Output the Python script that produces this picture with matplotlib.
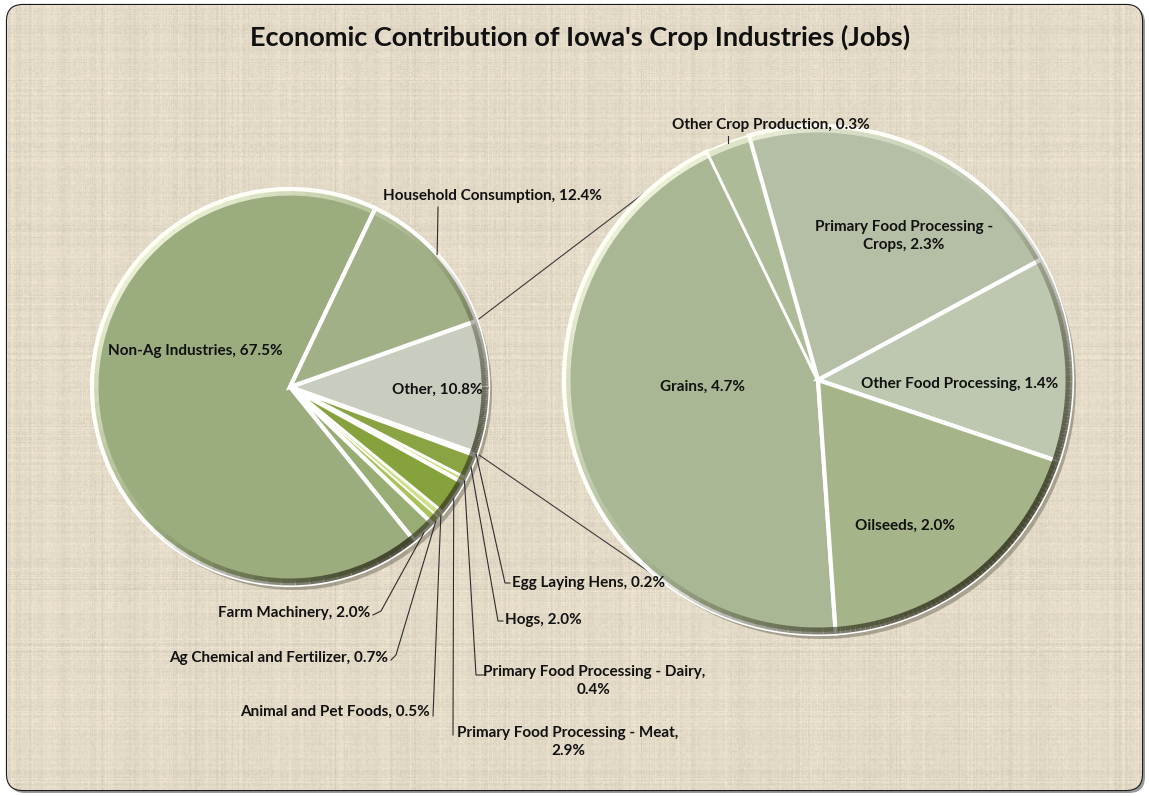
import numpy as np
import matplotlib.pyplot as plt
from matplotlib.patches import FancyBboxPatch
from matplotlib.collections import LineCollection

plt.rcParams['font.family'] = ['Lato', 'DejaVu Sans']

W, H = 1149, 796

# Primary pie (share of Iowa jobs)
main_labels = ["Other", "Egg Laying Hens", "Hogs", "Primary Food Processing - Dairy",
               "Primary Food Processing - Meat", "Animal and Pet Foods",
               "Ag Chemical and Fertilizer", "Farm Machinery", "Non-Ag Industries",
               "Household Consumption"]
main_values = [10.8, 0.2, 2.0, 0.4, 2.9, 0.5, 0.7, 2.0, 67.5, 12.4]
main_colors = ["#c9cdbf", "#dfe6bd", "#8aa444", "#c4d86e", "#86a23c", "#cfe08a",
               "#a9c25a", "#97ad74", "#9bad7e", "#a1b087"]

# Secondary pie (breakdown of "Other")
crop_labels = ["Grains", "Other Crop Production", "Primary Food Processing - Crops",
               "Other Food Processing", "Oilseeds"]
crop_values = [4.7, 0.3, 2.3, 1.4, 2.0]
crop_colors = ["#a9b794", "#adbb98", "#b5bfa6", "#bec8b1", "#a6b589"]


def py(y):
    # image rows run downward, axes y runs upward
    return H - y


fig = plt.figure(figsize=(W / 100, H / 100), dpi=100)
fig.patch.set_facecolor("white")
ax = fig.add_axes([0, 0, 1, 1])

# rounded frame with a linen-like fill
frame_shadow = FancyBboxPatch((9, 3), 1136, 786, boxstyle="round,pad=0,rounding_size=16",
                              facecolor="#555555", edgecolor="none", alpha=0.6, zorder=0)
ax.add_patch(frame_shadow)
frame = FancyBboxPatch((7, 6), 1135, 785, boxstyle="round,pad=0,rounding_size=16",
                       facecolor="#e2d8c4", edgecolor="#1b1b1b", linewidth=1.6, zorder=1)
ax.add_patch(frame)

rng = np.random.default_rng(11)
base = np.array([227, 218, 199]) / 255.0
rows = rng.normal(0, 1, (H, 1, 1))
cols = rng.normal(0, 1, (1, W, 1))
grain = rng.normal(0, 1, (H, W, 1))
tex = base[None, None, :] * (1 + 0.016 * rows + 0.016 * cols + 0.02 * grain)
tex = np.clip(tex, 0, 1)
img = ax.imshow(tex, extent=(7, 1142, 6, 791), origin="upper", zorder=1.5,
                interpolation="bilinear")
img.set_clip_path(frame)


def draw_pie(values, colors, center, radius, startangle, explode):
    shadows = ax.pie(values, colors=["#3c3a2c"] * len(values), startangle=startangle,
                     counterclock=False, radius=radius,
                     center=(center[0] + 4, center[1] - 5), explode=explode,
                     wedgeprops=dict(linewidth=0, alpha=0.35), frame=True)[0]
    for s in shadows:
        s.set_zorder(3)
    wedges = ax.pie(values, colors=colors, startangle=startangle, counterclock=False,
                    radius=radius, center=center, explode=explode,
                    wedgeprops=dict(edgecolor="white", linewidth=3), frame=True)[0]
    for w, v in zip(wedges, values):
        w.set_zorder(4)
        if v < 1:
            # thin slices keep their colour visible
            w.set_linewidth(1.2)
        # bevel rim: light toward upper left, dark toward lower right
        th = np.linspace(np.radians(w.theta1), np.radians(w.theta2), 60)
        cx, cy = w.center
        rr = w.r - 3
        xs = cx + rr * np.cos(th)
        ys = cy + rr * np.sin(th)
        pts = np.column_stack([xs, ys]).reshape(-1, 1, 2)
        segs = np.concatenate([pts[:-1], pts[1:]], axis=1)
        mid = (th[:-1] + th[1:]) / 2
        light = np.cos(mid - np.radians(135))
        seg_cols = []
        for l in light:
            if l > 0:
                seg_cols.append((1, 1, 0.92, 0.8 * l))
            else:
                seg_cols.append((0.2, 0.2, 0.12, -0.85 * l))
        ax.add_collection(LineCollection(segs, colors=seg_cols, linewidths=5, zorder=5))
    return wedges


main_center = (290, py(387))
main_r = 198
crop_center = (818, py(380))
crop_r = 254

main_start = main_values[0] / sum(main_values) * 180
main_wedges = draw_pie(main_values, main_colors, main_center, main_r, main_start,
                       [0.012] * len(main_values))
crop_wedges = draw_pie(crop_values, crop_colors, crop_center, crop_r, -86,
                       [0.0, 0.02, 0.02, 0.015, 0.015])


def arc_point(w, ang=None, frac=1.0):
    if ang is None:
        ang = (w.theta1 + w.theta2) / 2
    a = np.radians(ang)
    return (w.center[0] + frac * w.r * np.cos(a), w.center[1] + frac * w.r * np.sin(a))


# connector lines from "Other" to the secondary pie
other = main_wedges[0]
for ang_main, ang_crop in [(other.theta2, 127), (other.theta1, 233)]:
    p0 = arc_point(other, ang_main)
    p1 = (crop_center[0] + crop_r * np.cos(np.radians(ang_crop)),
          crop_center[1] + crop_r * np.sin(np.radians(ang_crop)))
    ax.plot([p0[0], p1[0]], [p0[1], p1[1]], color="#3b3b3b", lw=0.8, zorder=2)

label_kw = dict(fontsize=11, fontweight="bold", color="#111111", zorder=8)


def lab(name, val):
    return f"{name}, {val:.1f}%"


# labels inside the slices
inside_main = {"Non-Ag Industries": (195, 351), "Other": (437, 390)}
for name, (x, y) in inside_main.items():
    i = main_labels.index(name)
    ax.text(x, py(y), lab(name, main_values[i]), ha="center", va="center", **label_kw)

inside_crop = {"Grains": (702, 387), "Other Food Processing": (960, 384),
               "Oilseeds": (905, 526)}
for name, (x, y) in inside_crop.items():
    i = crop_labels.index(name)
    ax.text(x, py(y), lab(name, crop_values[i]), ha="center", va="center", **label_kw)
i = crop_labels.index("Primary Food Processing - Crops")
ax.text(904, py(236), f"Primary Food Processing -\nCrops, {crop_values[i]:.1f}%",
        ha="center", va="center", linespacing=1.35, **label_kw)

# labels with leader lines: (text x, text y, ha, leader path after the slice edge)
outside = {
    "Household Consumption": (492, 196, "center", [(438, 207)]),
    "Egg Laying Hens": (512, 583, "left", [(505, 583), (510, 583)]),
    "Hogs": (505, 620, "left", [(498, 621), (503, 621)]),
    "Primary Food Processing - Dairy": (594, 681, "center", [(476, 675), (484, 675)]),
    "Primary Food Processing - Meat": (568, 742, "center", [(453, 735)]),
    "Animal and Pet Foods": (430, 712, "right", [(433, 716)]),
    "Ag Chemical and Fertilizer": (388, 658, "right", [(396, 655), (391, 660)]),
    "Farm Machinery": (370, 613, "right", [(381, 611), (373, 615)]),
}
for name, (x, y, ha, path) in outside.items():
    i = main_labels.index(name)
    w = main_wedges[i]
    p0 = arc_point(w)
    xs = [p0[0]] + [p[0] for p in path]
    ys = [p0[1]] + [py(p[1]) for p in path]
    ax.plot(xs, ys, color="#2e2e2e", lw=0.8, zorder=7)
    text = lab(name, main_values[i])
    if name.startswith("Primary Food Processing"):
        text = f"{name},\n{main_values[i]:.1f}%"
    ax.text(x, py(y), text, ha=ha, va="center", linespacing=1.3, **label_kw)

# Other Crop Production label sits above its thin slice
i = crop_labels.index("Other Crop Production")
p0 = arc_point(crop_wedges[i])
ax.plot([p0[0], p0[0]], [p0[1], py(136)], color="#2e2e2e", lw=0.8, zorder=7)
ax.text(771, py(125), lab("Other Crop Production", crop_values[i]),
        ha="center", va="center", **label_kw)

ax.text(580, py(37), "Economic Contribution of Iowa's Crop Industries (Jobs)",
        ha="center", va="center", fontsize=19.5, fontweight="bold", color="#111111", zorder=8)

ax.set_xlim(0, W)
ax.set_ylim(0, H)
ax.set_aspect("auto")
ax.axis("off")

fig.savefig("out.png", dpi=100)
